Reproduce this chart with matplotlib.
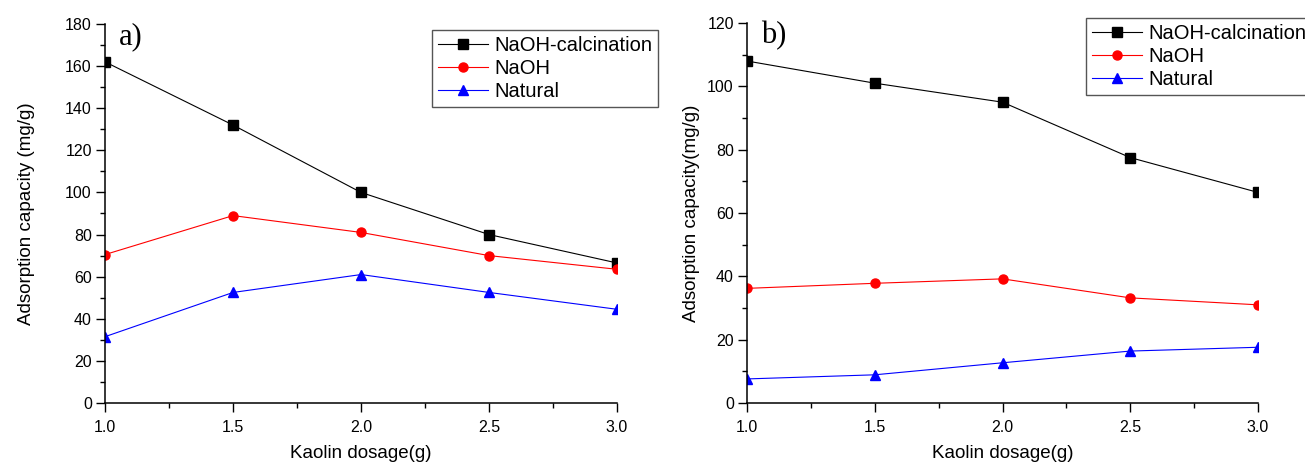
import numpy as np
import matplotlib
matplotlib.use("Agg")
import matplotlib.pyplot as plt
from matplotlib.ticker import MultipleLocator

plt.rcParams['font.family'] = ['Liberation Sans', 'DejaVu Sans']

dosage = [1.0, 1.5, 2.0, 2.5, 3.0]
series_names = ['NaOH-calcination', 'NaOH', 'Natural']

# panel a)
a_calc = [162, 132, 100, 80, 66.5]
a_naoh = [70.5, 89, 81, 70, 63.5]
a_natural = [31.5, 52.5, 61, 52.5, 44.5]

# panel b)
b_calc = [108, 101, 95, 77.5, 66.5]
b_naoh = [36.2, 37.8, 39.2, 33.2, 31]
b_natural = [7.6, 8.9, 12.7, 16.4, 17.6]

styles = [('black', 's'), ('red', 'o'), ('blue', '^')]


def draw_panel(ax, values, ymax, ystep, ylabel, ylabpad, tag, leg_anchor):
    for name, ys, (col, mk) in zip(series_names, values, styles):
        ax.plot(dosage, ys, color=col, lw=0.8, marker=mk, markersize=6.5,
                markerfacecolor=col, markeredgecolor=col, label=name)
    ax.set_xlim(1.0, 3.0)
    ax.set_ylim(0, ymax)
    ax.xaxis.set_major_locator(MultipleLocator(0.5))
    ax.xaxis.set_minor_locator(MultipleLocator(0.25))
    ax.yaxis.set_major_locator(MultipleLocator(ystep))
    ax.yaxis.set_minor_locator(MultipleLocator(ystep / 2))
    ax.xaxis.set_major_formatter(plt.FormatStrFormatter('%.1f'))
    ax.spines['top'].set_visible(False)
    ax.spines['right'].set_visible(False)
    for s in ('left', 'bottom'):
        ax.spines[s].set_linewidth(1.1)
    ax.tick_params(which='major', direction='out', length=6.5, width=1,
                   labelsize=11.5, pad=3)
    ax.tick_params(axis='x', which='major', pad=6)
    ax.tick_params(which='minor', direction='out', length=3.5, width=1)
    ax.set_xlabel('Kaolin dosage(g)', fontsize=13.5, labelpad=7)
    ax.set_ylabel(ylabel, fontsize=13.5, labelpad=ylabpad)
    ax.text(0.027, 1.005, tag, transform=ax.transAxes, fontsize=22,
            family=['Liberation Serif', 'DejaVu Serif'], va='top', ha='left')
    leg = ax.legend(loc='upper left', bbox_to_anchor=leg_anchor,
                    bbox_transform=ax.figure.transFigure, fontsize=14.5,
                    fancybox=False, edgecolor='#555555', framealpha=1,
                    borderpad=0.3, labelspacing=0.2, handlelength=2.5,
                    handletextpad=0.3, borderaxespad=0)
    leg.get_frame().set_linewidth(1.0)


fig = plt.figure(figsize=(13.05, 4.63), dpi=100)
ax1 = fig.add_axes([0.0805, 0.1296, 0.3923, 0.8186])
ax2 = fig.add_axes([0.5724, 0.1296, 0.3916, 0.8207])

draw_panel(ax1, [a_calc, a_naoh, a_natural], 180, 20,
           'Adsorption capacity (mg/g)', 22, 'a)', (0.331, 0.935))
draw_panel(ax2, [b_calc, b_naoh, b_natural], 120, 20,
           'Adsorption capacity(mg/g)', 5, 'b)', (0.832, 0.961))

fig.savefig('out.png', dpi=100)
